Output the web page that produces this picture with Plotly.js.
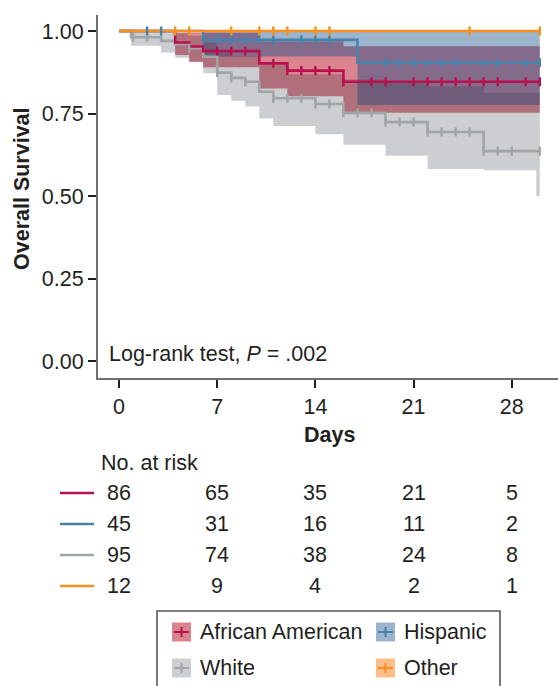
<!DOCTYPE html>
<html><head><meta charset="utf-8">
<script src="https://cdn.plot.ly/plotly-3.0.1.min.js"></script>
<style>html,body{margin:0;padding:0;background:#fff;} #chart{width:558px;height:686px;}</style>
</head><body><div id="chart"></div>
<script>
// ---------------- data ----------------
const groups = ['African American', 'Hispanic', 'White', 'Other'];
const lineColors = ['#b8104f', '#4682aa', '#a0a5a8', '#f7901e'];
const bandColors = ['#d9848f', 'rgba(14,72,133,0.41)', 'rgba(40,47,60,0.236)', '#fbbe8a'];
const swatchColors = ['#d9848f', '#9cb4cd', '#cdcfd2', '#fbbe8a'];
const endDay = 30;
const xTicks = [0, 7, 14, 21, 28];
const yTicks = [0, 0.25, 0.5, 0.75, 1];
const yTickText = ['0.00', '0.25', '0.50', '0.75', '1.00'];

// African American
const aaTimes = [4, 5, 6, 10, 12, 16];
const aaSurv = [0.965, 0.953, 0.939, 0.902, 0.880, 0.846];
const aaCensor = [7, 8, 9, 11, 12, 13, 14, 15, 16, 18, 19, 21, 22, 23, 24, 25, 26, 27, 29, 30];
const aaBandTimes = [4, 5, 6, 10, 12, 16];
const aaUpper = [0.995, 0.995, 0.995, 0.969, 0.969, 0.954];
const aaLower = [0.927, 0.907, 0.890, 0.826, 0.802, 0.752];

// Hispanic
const hiTimes = [6, 17];
const hiSurv = [0.973, 0.904];
const hiCensor = [2, 3, 6, 7, 8, 9, 10, 11, 13, 14, 15, 19, 20, 21, 22, 23, 24, 26, 27, 29, 30];
const hiBandTimes = [6, 17];
const hiUpper = [1.0, 1.0];
const hiLower = [0.923, 0.776];

// White
const whTimes = [0.85, 3, 4, 5, 6, 7, 8, 9, 10, 11, 14, 16, 19, 22, 26];
const whSurv = [0.981, 0.970, 0.960, 0.948, 0.922, 0.874, 0.858, 0.846, 0.816, 0.796, 0.779, 0.752, 0.724, 0.694, 0.636];
const whCensor = [1, 2, 5, 7, 8, 9, 11, 12, 13, 14, 15, 16, 17, 18, 19, 20, 21, 22, 23, 24, 25, 26, 27, 28, 30];
const whBandTimes = [0.85, 3, 4, 5, 6, 7, 8, 9, 10, 11, 12, 14, 16, 19, 22, 26, 29.75];
const whUpper = [1.0, 0.998, 0.993, 0.985, 0.965, 0.935, 0.924, 0.924, 0.898, 0.898, 0.868, 0.868, 0.853, 0.842, 0.832, 0.813, 0.813];
const whLower = [0.955, 0.935, 0.919, 0.905, 0.872, 0.806, 0.789, 0.771, 0.735, 0.712, 0.712, 0.687, 0.655, 0.622, 0.582, 0.578, 0.50];

// Other
const otTimes = [];
const otSurv = [];
const otCensor = [4, 5, 8, 10, 11, 12, 14, 15, 25, 30];

// Number at risk
const riskDays = [0, 7, 14, 21, 28];
const riskAA = [86, 65, 35, 21, 5];
const riskHI = [45, 31, 16, 11, 2];
const riskWH = [95, 74, 38, 24, 8];
const riskOT = [12, 9, 4, 2, 1];

// ---------------- helpers ----------------
function stepLine(times, surv) {
  const x = [0].concat(times, [endDay]);
  const y = [1].concat(surv, [surv.length ? surv[surv.length - 1] : 1]);
  return {x, y};
}
function survAt(times, surv, t) {
  let v = 1;
  for (let i = 0; i < times.length; i++) if (times[i] <= t) v = surv[i];
  return v;
}
function bandPath(times, upper, lower) {
  const xs = [], ys = [];
  for (let i = 0; i < times.length; i++) {
    const t1 = i + 1 < times.length ? times[i + 1] : endDay;
    xs.push(times[i], t1); ys.push(upper[i], upper[i]);
  }
  for (let i = times.length - 1; i >= 0; i--) {
    const t1 = i + 1 < times.length ? times[i + 1] : endDay;
    xs.push(t1, times[i]); ys.push(lower[i], lower[i]);
  }
  return {x: xs, y: ys};
}

const series = [
  {times: aaTimes, surv: aaSurv, censor: aaCensor},
  {times: hiTimes, surv: hiSurv, censor: hiCensor},
  {times: whTimes, surv: whSurv, censor: whCensor},
  {times: otTimes, surv: otSurv, censor: otCensor}
];
const bands = [
  {idx: 0, t: aaBandTimes, u: aaUpper, l: aaLower},
  {idx: 1, t: hiBandTimes, u: hiUpper, l: hiLower},
  {idx: 2, t: whBandTimes, u: whUpper, l: whLower}
];

const traces = [];
bands.forEach(b => {
  const p = bandPath(b.t, b.u, b.l);
  traces.push({x: p.x, y: p.y, type: 'scatter', mode: 'lines', fill: 'toself',
    fillcolor: bandColors[b.idx], line: {width: 0, color: 'rgba(0,0,0,0)'}, hoverinfo: 'skip', name: groups[b.idx] + ' CI'});
});
const drawOrder = [2, 0, 1, 3];
drawOrder.forEach(i => {
  const s = series[i];
  const p = stepLine(s.times, s.surv);
  traces.push({x: p.x, y: p.y, type: 'scatter', mode: 'lines', line: {shape: 'hv', width: 2.6, color: lineColors[i]}, name: groups[i]});
});
drawOrder.forEach(i => {
  const s = series[i];
  traces.push({x: s.censor, y: s.censor.map(t => survAt(s.times, s.surv, t)), type: 'scatter', mode: 'markers',
    marker: {symbol: 'line-ns', size: 6.5, color: lineColors[i], line: {width: 2.4, color: lineColors[i]}}, name: groups[i] + ' censored'});
});

// ---------------- layout ----------------
const L = 98, T = 15, PW = 460, PH = 363;
const px = p => (p - L) / PW;
const py = p => (T + PH - p) / PH;
const textColor = '#231f20';
const font = 'Liberation Sans, Arial, Helvetica, sans-serif';
const FS = 21.5;

const annotations = [];
const shapes = [];
annotations.push({xref: 'paper', yref: 'paper', x: px(22), y: py(189), text: '<b>Overall Survival</b>', textangle: -90,
  showarrow: false, font: {size: FS, color: textColor}, xanchor: 'center', yanchor: 'middle'});
annotations.push({xref: 'paper', yref: 'paper', x: px(329), y: py(435), text: '<b>Days</b>',
  showarrow: false, font: {size: FS, color: textColor}, xanchor: 'center', yanchor: 'middle'});
annotations.push({xref: 'paper', yref: 'paper', x: px(107), y: py(354), text: 'Log-rank test, <i>P</i> = .002',
  showarrow: false, font: {size: FS, color: textColor}, xanchor: 'left', yanchor: 'middle'});
annotations.push({xref: 'paper', yref: 'paper', x: px(99), y: py(463), text: 'No. at risk',
  showarrow: false, font: {size: FS, color: textColor}, xanchor: 'left', yanchor: 'middle'});

const riskRows = [riskAA, riskHI, riskWH, riskOT];
const rowY = [493, 524, 555, 586];
riskRows.forEach((row, r) => {
  shapes.push({type: 'line', xref: 'paper', yref: 'paper', x0: px(60), x1: px(94), y0: py(rowY[r]), y1: py(rowY[r]),
    line: {color: lineColors[r], width: 2.4}});
  row.forEach((v, c) => {
    annotations.push({xref: 'x', yref: 'paper', x: riskDays[c], y: py(rowY[r]), text: String(v), showarrow: false,
      font: {size: FS, color: textColor}, xanchor: 'center', yanchor: 'middle'});
  });
});

// legend (drawn manually)
shapes.push({type: 'rect', xref: 'paper', yref: 'paper', x0: px(157), x1: px(500), y0: py(611), y1: py(700),
  line: {color: '#58595b', width: 1.6}, fillcolor: 'rgba(0,0,0,0)'});
const legPos = [[172, 632], [376, 632], [172, 668], [376, 668]];
legPos.forEach((p, i) => {
  const [lx, ly] = p;
  shapes.push({type: 'rect', xref: 'paper', yref: 'paper', x0: px(lx), x1: px(lx + 19), y0: py(ly - 9.5), y1: py(ly + 9.5),
    line: {width: 0}, fillcolor: swatchColors[i]});
  shapes.push({type: 'line', xref: 'paper', yref: 'paper', x0: px(lx + 2), x1: px(lx + 17), y0: py(ly), y1: py(ly),
    line: {width: 2, color: lineColors[i]}});
  shapes.push({type: 'line', xref: 'paper', yref: 'paper', x0: px(lx + 9.5), x1: px(lx + 9.5), y0: py(ly - 5), y1: py(ly + 5),
    line: {width: 2, color: lineColors[i]}});
  annotations.push({xref: 'paper', yref: 'paper', x: px(lx + 26), y: py(ly), text: groups[i], showarrow: false,
    font: {size: FS, color: textColor}, xanchor: 'left', yanchor: 'middle'});
});

const layout = {
  width: 558, height: 686,
  margin: {l: L, r: 0, t: T, b: 686 - T - PH, pad: 0},
  paper_bgcolor: '#ffffff', plot_bgcolor: '#ffffff',
  showlegend: false,
  font: {family: font, size: FS, color: textColor},
  xaxis: {range: [-1.5, 31.3], tickvals: xTicks, ticks: 'outside', ticklen: 8, tickwidth: 2, tickcolor: textColor,
    showline: true, linecolor: '#6d6e71', linewidth: 2, showgrid: false, zeroline: false,
    tickfont: {size: FS, color: textColor}, fixedrange: true},
  yaxis: {range: [-0.0515, 1.0485], tickvals: yTicks, ticktext: yTickText, ticks: 'outside', ticklen: 8, tickwidth: 2,
    tickcolor: textColor, showline: true, linecolor: '#6d6e71', linewidth: 2, showgrid: false, zeroline: false,
    tickfont: {size: FS, color: textColor}, fixedrange: true},
  annotations, shapes
};

Plotly.newPlot('chart', traces, layout, {displayModeBar: false, staticPlot: true});
</script>
</body></html>
